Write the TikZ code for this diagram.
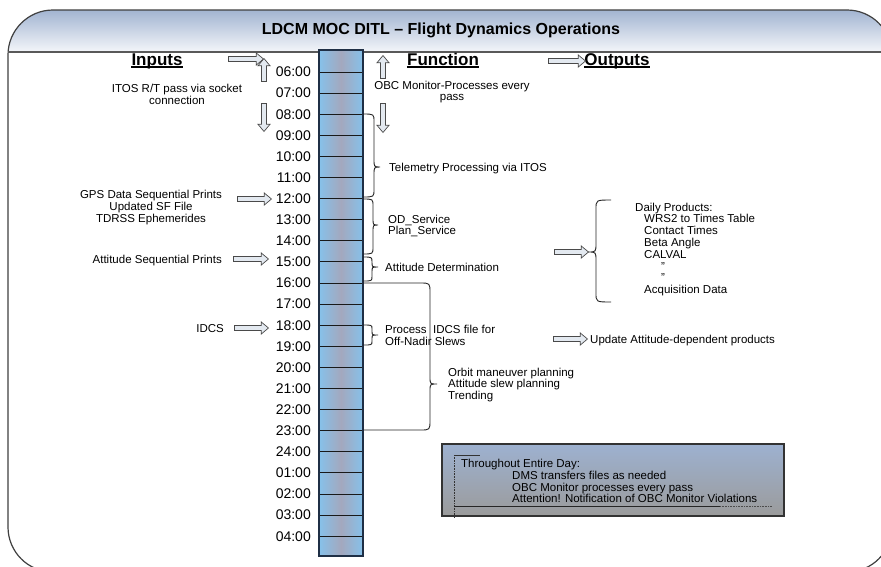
\documentclass[tikz,border=0pt]{standalone}
\usepackage{fontspec}
\setmainfont{Liberation Sans}
\usetikzlibrary{shapes.arrows}
\definecolor{hdtop}{HTML}{9EB1CF}
\definecolor{hdbot}{HTML}{F4F6FA}
\definecolor{colout}{HTML}{86C1EA}
\definecolor{colmid}{HTML}{A3A8BE}
\definecolor{colborder}{HTML}{1F2F45}
\definecolor{arrfill}{HTML}{E3E9F0}
\definecolor{arrdraw}{HTML}{4A4A4A}
\definecolor{boxtop}{HTML}{9DB1D0}
\definecolor{boxbot}{HTML}{9B9B9B}
\newcommand\rbrc[7]{% x0 x1 xtip ytop ytip ybot r
  \draw[brc] (#1,#4) .. controls (#2,#4) .. (#2,{#4+#7}) -- (#2,{#5-#7})
    .. controls (#2,#5) .. (#3,#5) .. controls (#2,#5) .. (#2,{#5+#7})
    -- (#2,{#6-#7}) .. controls (#2,#6) .. (#1,#6);}
\begin{document}
\begin{tikzpicture}[x=1pt,y=-1pt,
  every node/.style={inner sep=0pt, font=\fontsize{11.5}{11.8}\selectfont},
  txt/.style={align=left},
  ctxt/.style={align=center},
  timelbl/.style={font=\fontsize{14}{16}\selectfont},
  headlbl/.style={font=\fontsize{17}{19}\selectfont\bfseries},
  blockarr/.style={single arrow, draw=arrdraw, fill=arrfill, line width=0.7pt,
    inner sep=2.1pt, single arrow head extend=3.6pt, single arrow tip angle=80,
    minimum height=#1},
  brc/.style={draw=black!85, line width=0.9pt},
  rowline/.style={draw=black!90, line width=1pt},
  uline/.style={line width=1.3pt}]
\useasboundingbox (0,0) rectangle (881,566);
\fill[white] (0,0) rectangle (881,566);
\begin{scope}
\clip (0,0) rectangle (881,566);
% header
\begin{scope}
\clip[rounded corners=45pt] (8,10) rectangle (892,572);
\shade[top color=hdtop, bottom color=hdbot] (0,8) rectangle (900,52);
\end{scope}
\draw[black!75, line width=1.2pt, rounded corners=45pt] (8,10) rectangle (892,572);
\draw[black!65, line width=1.5pt] (8,52) -- (892,52);
\node[font=\fontsize{16}{18}\selectfont\bfseries] (title) at (441,30) {LDCM MOC DITL -- Flight Dynamics Operations};

% time column
\shade[left color=colout, right color=colout, middle color=colmid] (319,50) rectangle (363,556);
\foreach \t [count=\k from 0] in {06:00,07:00,08:00,09:00,10:00,11:00,12:00,13:00,14:00,15:00,16:00,17:00,18:00,19:00,20:00,21:00,22:00,23:00,24:00,01:00,02:00,03:00,04:00}{
  \pgfmathsetmacro{\yy}{72+21.1*\k}
  \draw[rowline] (319,\yy) -- (363,\yy);
  \node[timelbl, anchor=east] (t\k) at (311,\yy) {\t};
}
\draw[colborder, line width=1.3pt] (319,50) rectangle (363,556);

% headings
\node[headlbl, anchor=base] (hin) at (157,65) {Inputs};
\node[headlbl, anchor=base] (hfn) at (443,65) {Function};
\node[headlbl, anchor=base] (hout) at (617,65) {Outputs};
\foreach \h in {hin,hfn,hout}{
  \draw[uline] ([yshift=-2pt]\h.base west) -- ([yshift=-2pt]\h.base east);
}

% arrows
\node[blockarr=35] (ainh) at (244.5,59) {};
\node[blockarr=23, rotate=90] (ainu) at (264,71.5) {};
\node[blockarr=28, rotate=-90] (aind) at (264,116) {};
\node[blockarr=34] (agps) at (253,199) {};
\node[blockarr=35] (aatt) at (249.5,259) {};
\node[blockarr=34] (aidcs) at (250,328) {};
\node[blockarr=23, rotate=90] (afnu) at (383,68.5) {};
\node[blockarr=29, rotate=-90] (afnd) at (383,116.5) {};
\node[blockarr=37] (afno) at (565.5,61) {};
\node[blockarr=34] (aprod) at (570,252) {};
\node[blockarr=34] (aupd) at (569,339) {};

% inputs text
\node[ctxt] (itos) at (177,94) {ITOS R/T pass via socket\\connection};
\node[ctxt] (gps) at (151,207.5) {GPS Data Sequential Prints\\Updated SF File\\TDRSS Ephemerides};
\node[anchor=base east] (attin) at (222,263) {Attitude Sequential Prints};
\node[anchor=base east] (idcsin) at (224,332) {IDCS};

% function text
\node[ctxt] (obc) at (452,92) {OBC Monitor-Processes every\\pass};
\rbrc{363}{374}{380}{114}{167}{197}{8}
\node[anchor=base west] (tlm) at (389,171) {Telemetry Processing via ITOS};
\rbrc{363}{373}{378}{199}{225}{254}{7}
\node[txt, anchor=west] (od) at (388,226) {OD\_Service\\Plan\_Service};
\rbrc{363}{372}{378}{257}{267}{281}{5}
\node[anchor=base west] (attdet) at (385,271) {Attitude Determination};
\rbrc{363}{372}{378}{325}{335}{345}{4}
\node[txt, anchor=west] (pidcs) at (385,335) {Process\ \ IDCS file for\\Off-Nadir Slews};
\draw[brc] (363,283) -- (420,283) .. controls (430,283) .. (430,293) -- (430,377)
  .. controls (430,384) .. (437,384) .. controls (430,384) .. (430,391)
  -- (430,420) .. controls (430,430) .. (420,430) -- (363,430);
\node[txt, anchor=west] (plan) at (448,385) {Orbit maneuver planning\\Attitude slew planning\\Trending};

% outputs
\rbrc{611}{596}{588}{200}{252}{302}{9}
\node[txt, anchor=west] (daily) at (635,249.5) {Daily Products:\\
\hspace*{9pt}WRS2 to Times Table\\
\hspace*{9pt}Contact Times\\
\hspace*{9pt}Beta Angle\\
\hspace*{9pt}CALVAL\\
\hspace*{26pt}"\\
\hspace*{26pt}"\\
\hspace*{9pt}Acquisition Data};
\node[anchor=base west] (upd) at (590,343) {Update Attitude-dependent products};

% bottom box
\shade[top color=boxtop, bottom color=boxbot] (442,444) rectangle (784,516);
\draw[black!80, line width=1.2pt] (442,444) rectangle (784,516);
\draw[black!80, line width=0.6pt] (455,455) -- (480,455);
\draw[black!80, line width=0.6pt, densely dotted] (454,455) -- (454,518);
\draw[black!85, line width=0.8pt] (454,506) -- (720,506);
\draw[black!70, line width=0.6pt, densely dotted] (720,506) -- (772,506);
\node[anchor=base west] (thr) at (461,467) {Throughout Entire Day:};
\node[anchor=base west] (dms) at (512,479.5) {DMS transfers files as needed};
\node[anchor=base west] (obcp) at (512,491) {OBC Monitor processes every pass};
\node[anchor=base west] (attn) at (512,502) {Attention! Notification of OBC Monitor Violations};
\end{scope}
\end{tikzpicture}
\end{document}
